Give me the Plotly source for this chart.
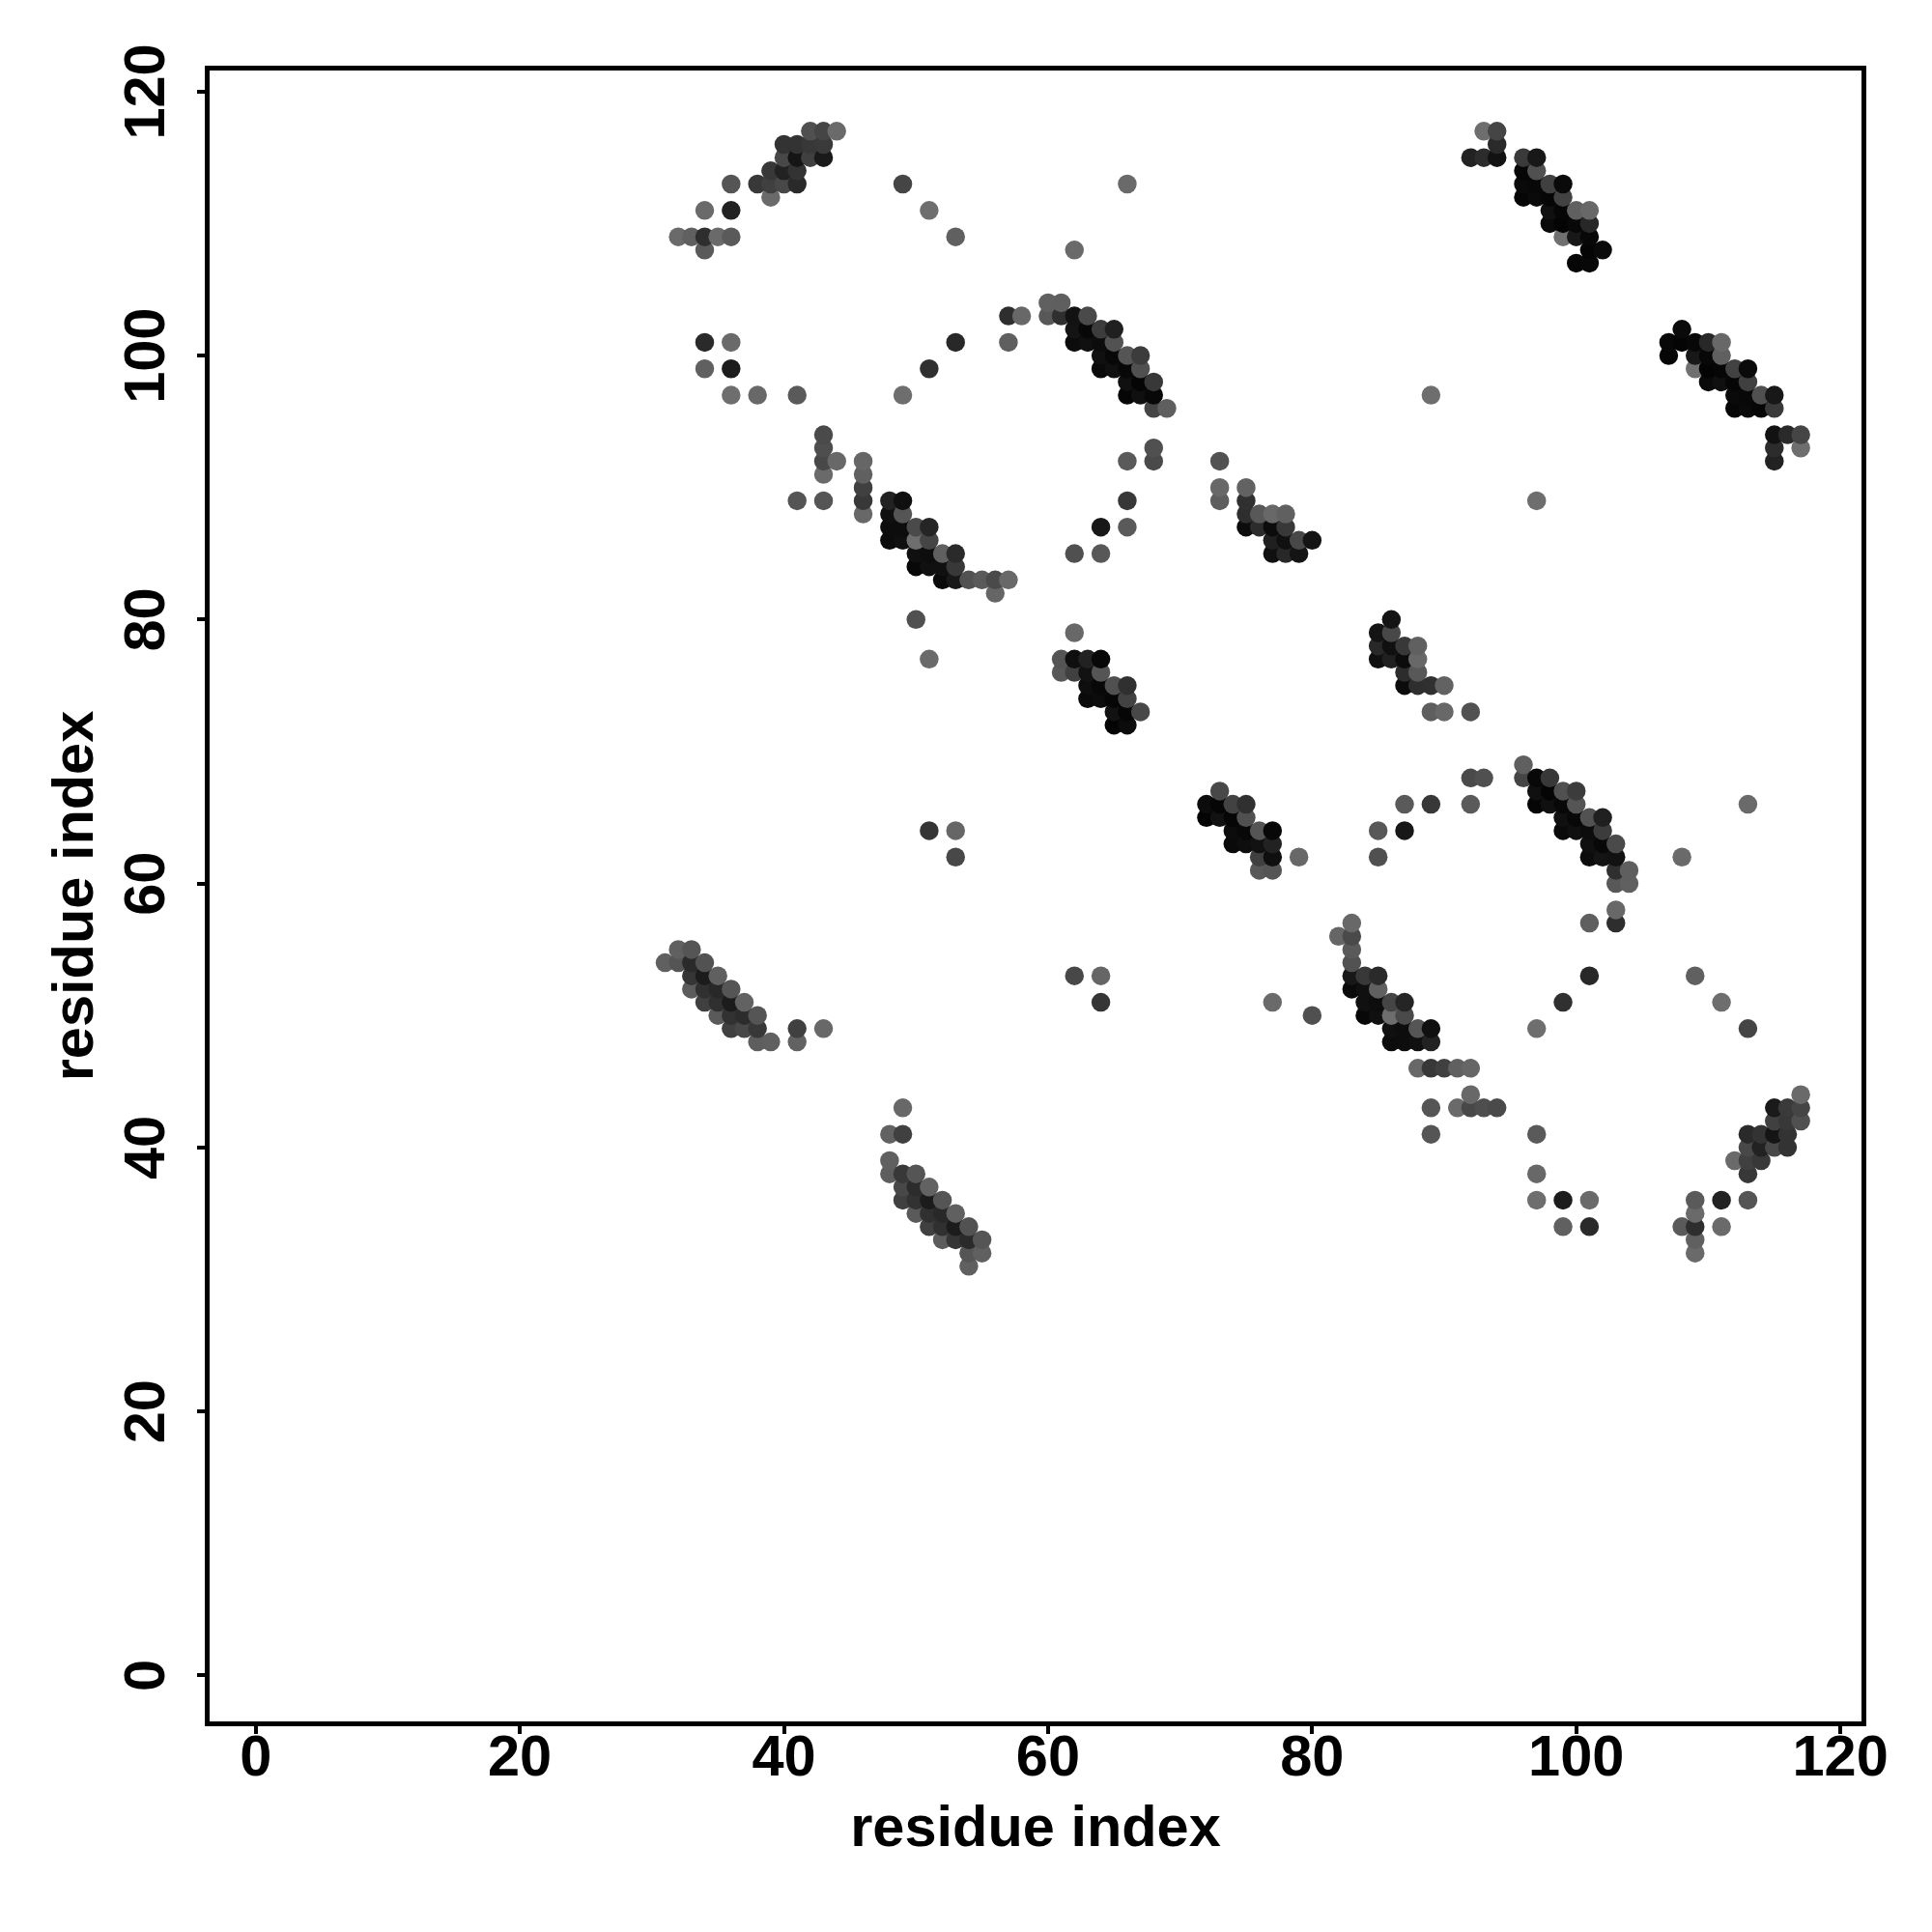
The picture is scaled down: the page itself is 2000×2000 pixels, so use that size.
import plotly.graph_objects as go

# upper-triangle contacts (res_a < res_b); shade is the grey level
res_a = [
 42,43,44, 40,41,42,43, 40,41,42,43, 92,93,94, 93,94, 94, 96,97,
 39,40,41, 96,97, 36,38,39,40,41,49,66, 96,97,98,99, 39, 96,97,98,99,
 34,36,51, 98,99,100,101, 98,99,100,101, 32,33,34,35,36,53, 99,100,101,
 34,62, 101,102, 100,101, 60,61, 57,58,60,61,62,63, 62,63,64,65,
 34,36,53,57, 62,63,64,65, 64,65,66,67, 34,36,51, 64,65,66,67,
 66,67,68, 36,38,41,49, 66,67,68, 89, 68,69, 43, 43,68,
 43,44,46,66,68,73, 43,46, 46,73,75, 41,43,46,48,49,66,73,75,
 46,48,49,75,76,77,78, 48,49,50,51,64,66,75,76,77,78,
 48,49,50,51,77,78,79,80, 50,51,52,53,62,64,77,78,79, 50,51,52,53,
 52,53,54,55,56,57, 56, 50, 62, 51,61,62,63,64, 61,62,63,64,
 63,64,65,66, 63,64,65,66, 65,66,67, 65,66, 51,53, 53,
 32,33, 31,32,33,34, 33,34,35, 33,34,35,36, 34,35,36,37,
 35,36,37,38, 36,37,38,41,43, 38,39,41,
]
res_b = [
 117,117,117, 116,116,116,116, 115,115,115,115, 115,115,115, 117,117, 116, 115,115,
 114,114,114, 114,114, 113,113,113,113,113,113,113, 113,113,113,113, 112, 112,112,112,112,
 111,111,111, 111,111,111,111, 110,110,110,110, 109,109,109,109,109,109, 109,109,109,
 108,108, 108,108, 107,107, 104,104, 103,103,103,103,103,103, 102,102,102,102,
 101,101,101,101, 101,101,101,101, 100,100,100,100, 99,99,99, 99,99,99,99,
 98,98,98, 97,97,97,97, 97,97,97, 97, 96,96, 94, 93,93,
 92,92,92,92,92,92, 91,91, 90,90,90, 89,89,89,89,89,89,89,89,
 88,88,88,88,88,88,88, 87,87,87,87,87,87,87,87,87,87,
 86,86,86,86,86,86,86,86, 85,85,85,85,85,85,85,85,85, 84,84,84,84,
 83,83,83,83,83,83, 82, 80, 79, 77,77,77,77,77, 76,76,76,76,
 75,75,75,75, 74,74,74,74, 73,73,73, 72,72, 64,64, 62,
 55,55, 54,54,54,54, 53,53,53, 52,52,52,52, 51,51,51,51,
 50,50,50,50, 49,49,49,49,49, 48,48,48,
]
shade = [
 0x50,0x45,0x6a, 0x33,0x33,0x38,0x3a, 0x48,0x15,0x40,0x1a, 0x22,0x2c,0x12, 0x6e,0x45, 0x2a, 0x3a,0x18,
 0x38,0x22,0x33, 0x06,0x50, 0x55,0x38,0x40,0x48,0x2a,0x45,0x6a, 0x0a,0x08,0x40,0x0a, 0x6a, 0x06,0x0a,0x06,0x42,
 0x6a,0x22,0x6e, 0x10,0x06,0x60,0x68, 0x0a,0x04,0x08,0x28, 0x6a,0x60,0x2e,0x6a,0x5a,0x60, 0x70,0x18,0x08,
 0x5a,0x6a, 0x05,0x0a, 0x06,0x08, 0x60,0x5f, 0x2e,0x68,0x58,0x2f,0x12,0x4a, 0x14,0x08,0x3c,0x20,
 0x2a,0x6a,0x28,0x5f, 0x0c,0x10,0x0c,0x52, 0x10,0x08,0x55,0x3c, 0x60,0x1c,0x30, 0x0a,0x10,0x08,0x50,
 0x10,0x05,0x38, 0x6e,0x68,0x5a,0x6e, 0x06,0x10,0x08, 0x6e, 0x45,0x5f, 0x4a, 0x4e,0x50,
 0x48,0x68,0x66,0x5a,0x4a,0x52, 0x6a,0x60, 0x40,0x68,0x62, 0x55,0x55,0x38,0x22,0x10,0x38,0x5e,0x30,
 0x68,0x10,0x55,0x2e,0x58,0x68,0x60, 0x0d,0x0d,0x4a,0x25,0x18,0x5a,0x0c,0x2c,0x0c,0x38,
 0x0c,0x10,0x6e,0x45,0x20,0x10,0x48,0x14, 0x10,0x0d,0x60,0x2a,0x50,0x58,0x10,0x28,0x14, 0x08,0x10,0x10,0x38,
 0x0a,0x18,0x52,0x5a,0x4a,0x68, 0x66, 0x50, 0x68, 0x6a,0x55,0x0f,0x22,0x08, 0x58,0x40,0x12,0x55,
 0x0e,0x08,0x50,0x30, 0x0a,0x0c,0x06,0x42, 0x12,0x06,0x48, 0x04,0x0c, 0x35,0x66, 0x48,
 0x60,0x55, 0x60,0x55,0x2a,0x52, 0x35,0x1c,0x60, 0x5c,0x30,0x28,0x55, 0x40,0x30,0x1c,0x62,
 0x5a,0x32,0x2c,0x55, 0x40,0x48,0x38,0x40,0x68, 0x5e,0x60,0x62,
]
tick_values = [0, 20, 40, 60, 80, 100, 120]
axis_label = "residue index"

assert len(res_a) == len(res_b) == len(shade)

# the contact map is symmetric: each contact appears at (a, b) and (b, a); drawn column by column
points = sorted(
    [(a, b, s) for a, b, s in zip(res_a, res_b, shade)]
    + [(b, a, s) for a, b, s in zip(res_a, res_b, shade)],
    key=lambda p: (p[0], p[1]),
)

fig = go.Figure(go.Scatter(
    x=[p[0] for p in points],
    y=[p[1] for p in points],
    mode="markers",
    marker=dict(size=19.5, color=[f"rgb({p[2]},{p[2]},{p[2]})" for p in points], line=dict(width=0)),
    hoverinfo="skip",
))

FONT = dict(family="Liberation Sans", size=59.5, color="black", weight="bold")
axis = dict(
    range=[-3.49, 121.6],
    tickmode="array",
    tickvals=tick_values,
    ticktext=[str(v) for v in tick_values],
    ticks="outside",
    ticklen=8,
    tickwidth=4,
    tickcolor="black",
    showline=True,
    linewidth=5,
    linecolor="black",
    mirror=True,
    showgrid=False,
    zeroline=False,
    tickfont=FONT,
)
fig.update_layout(
    width=2000,
    height=2000,
    margin=dict(l=217, r=73, t=73, b=218, autoexpand=False),
    paper_bgcolor="white",
    plot_bgcolor="white",
    showlegend=False,
    xaxis=dict(axis, ticklabelstandoff=-28, title=dict(text=axis_label, font=FONT, standoff=20)),
    yaxis=dict(axis, tickangle=-90, ticklabelstandoff=10, ticklabelshift=9,
               title=dict(text=axis_label, font=FONT, standoff=2)),
)
fig.write_html("out.html", config={"displayModeBar": False}, post_script="document.body.style.margin='0';")
